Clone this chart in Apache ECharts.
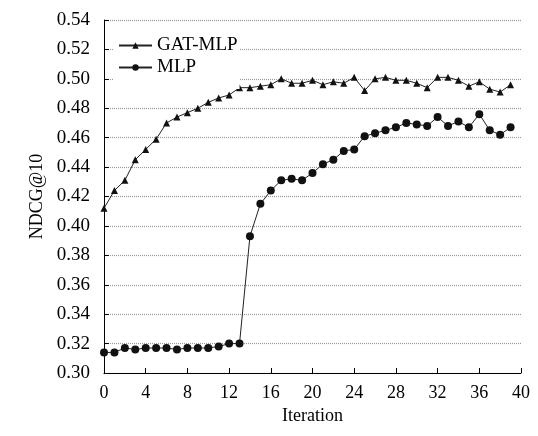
<!DOCTYPE html>
<html>
<head>
<meta charset="utf-8">
<script src="https://cdn.jsdelivr.net/npm/echarts@6/dist/echarts.min.js"></script>
<style>
  html, body { margin: 0; padding: 0; background: #fff; }
  #chart { width: 538px; height: 436px; }
</style>
</head>
<body>
<div id="chart"></div>
<script>
// NDCG@10 per iteration
const iterations = Array.from({ length: 40 }, (_, i) => i);

const gatMlp = [
  0.412, 0.424, 0.431, 0.445, 0.452, 0.459, 0.470, 0.474, 0.477, 0.480,
  0.484, 0.487, 0.489, 0.494, 0.494, 0.495, 0.496, 0.500, 0.497, 0.497,
  0.499, 0.496, 0.498, 0.497, 0.501, 0.492, 0.500, 0.501, 0.499, 0.499,
  0.497, 0.494, 0.501, 0.501, 0.499, 0.495, 0.498, 0.493, 0.491, 0.496
];

const mlp = [
  0.314, 0.314, 0.317, 0.316, 0.317, 0.317, 0.317, 0.316, 0.317, 0.317,
  0.317, 0.318, 0.320, 0.320, 0.393, 0.415, 0.424, 0.431, 0.432, 0.431,
  0.436, 0.442, 0.445, 0.451, 0.452, 0.461, 0.463, 0.465, 0.467, 0.470,
  0.469, 0.468, 0.474, 0.468, 0.471, 0.467, 0.476, 0.465, 0.462, 0.467
];

const font = 'Liberation Serif, Times New Roman, serif';

const chart = echarts.init(document.getElementById('chart'));

chart.setOption({
  backgroundColor: '#fff',
  animation: false,
  textStyle: { fontFamily: font, color: '#000' },
  grid: { left: 104, right: 17, top: 20, bottom: 63 },
  legend: {
    orient: 'vertical',
    left: 114,
    top: 34,
    itemWidth: 33,
    itemHeight: 8,
    itemGap: 3,
    backgroundColor: '#fff',
    padding: [2, 2, 12, 4],
    textStyle: { fontFamily: font, fontSize: 19, color: '#000' },
    data: ['GAT-MLP', 'MLP']
  },
  xAxis: {
    type: 'value',
    min: 0,
    max: 40,
    interval: 4,
    name: 'Iteration',
    nameLocation: 'middle',
    nameGap: 28,
    nameTextStyle: { fontFamily: font, fontSize: 18, color: '#000' },
    axisLine: { onZero: false, lineStyle: { color: '#000', width: 1 } },
    axisTick: { inside: true, length: 5, lineStyle: { color: '#000' } },
    axisLabel: { fontFamily: font, fontSize: 18, color: '#000', margin: 11 },
    splitLine: { show: false }
  },
  yAxis: {
    type: 'value',
    min: 0.30,
    max: 0.54,
    interval: 0.02,
    name: 'NDCG@10',
    nameLocation: 'middle',
    nameGap: 51,
    nameRotate: 90,
    nameTextStyle: { fontFamily: font, fontSize: 18, color: '#000' },
    axisLine: { show: true, lineStyle: { color: '#000', width: 1 } },
    axisTick: { show: true, inside: true, length: 5, lineStyle: { color: '#000' } },
    axisLabel: {
      fontFamily: font,
      fontSize: 19,
      color: '#000',
      margin: 14,
      formatter: v => v.toFixed(2)
    },
    splitLine: {
      show: true,
      lineStyle: { color: '#999', type: [1, 1], width: 1.2 }
    }
  },
  series: [
    {
      name: 'GAT-MLP',
      type: 'line',
      data: iterations.map((x, i) => [x, gatMlp[i]]),
      symbol: 'triangle',
      symbolSize: 7,
      showAllSymbol: true,
      lineStyle: { color: '#222', width: 1 },
      itemStyle: { color: '#111' }
    },
    {
      name: 'MLP',
      type: 'line',
      data: iterations.map((x, i) => [x, mlp[i]]),
      symbol: 'circle',
      symbolSize: 8,
      showAllSymbol: true,
      lineStyle: { color: '#222', width: 1 },
      itemStyle: { color: '#111' }
    }
  ]
});
</script>
</body>
</html>
